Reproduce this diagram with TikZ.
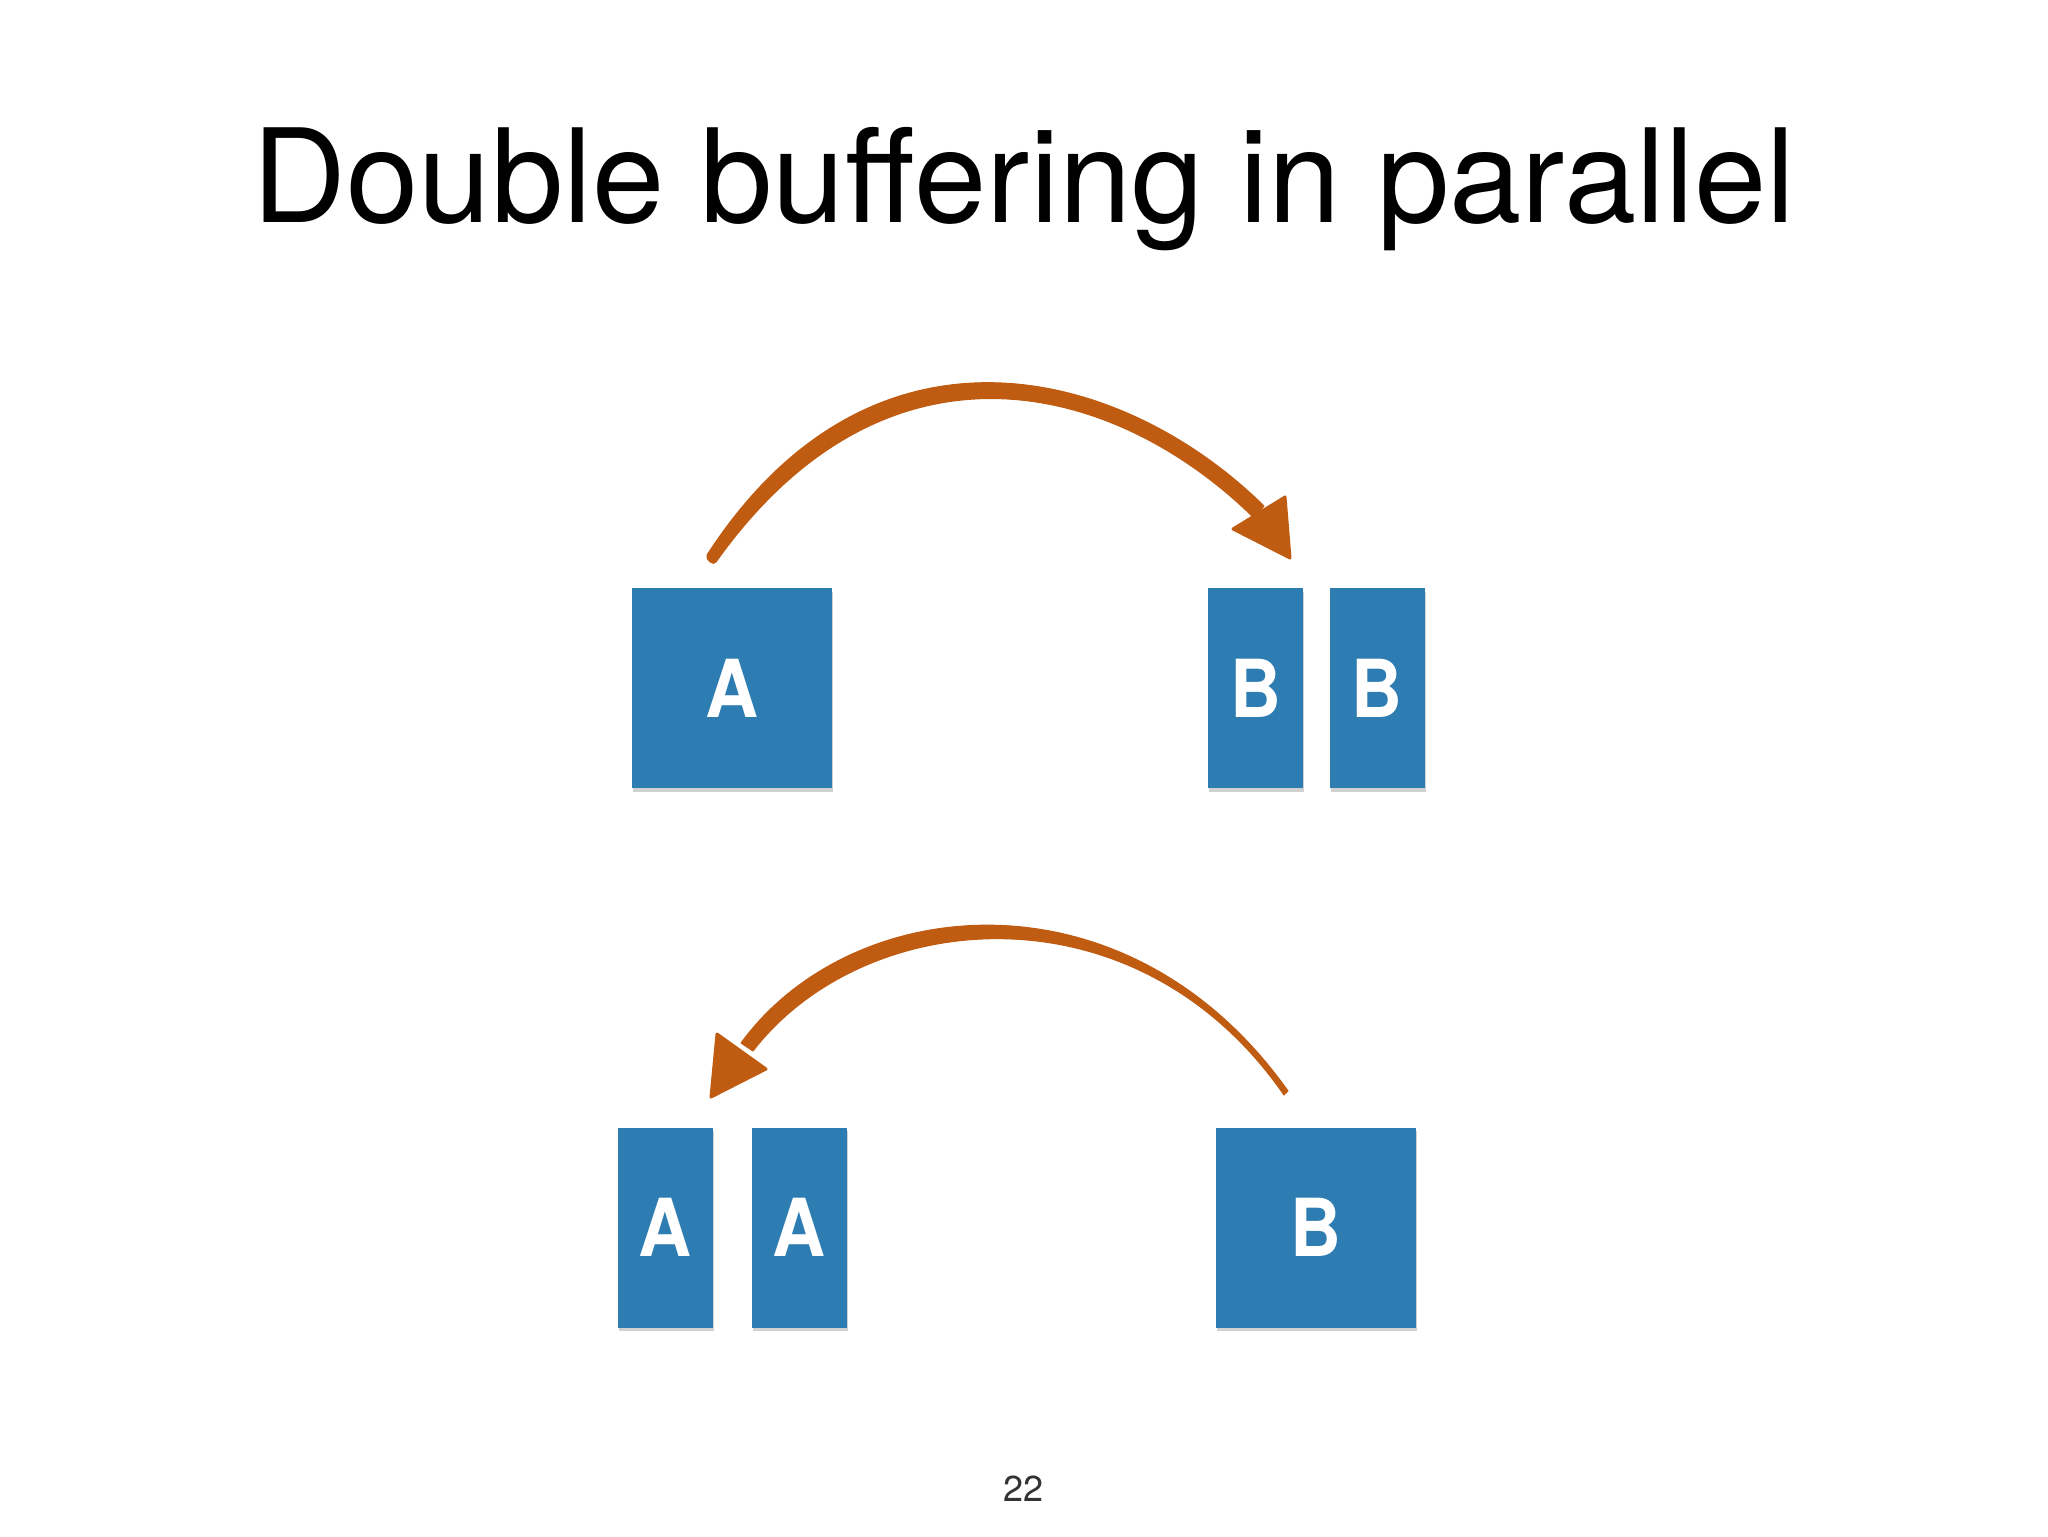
\documentclass[tikz,border=0pt]{standalone}
\usepackage{fontspec}
\setmainfont{TeX Gyre Heros}
\usetikzlibrary{shadows}
\definecolor{boxblue}{RGB}{46,125,178}
\definecolor{arroworange}{RGB}{192,92,18}
\begin{document}
\begin{tikzpicture}[x=0.5pt,y=-0.5pt,
  bluebox/.style={fill=boxblue, inner sep=0pt, outer sep=0pt, text=white,
    font=\fontsize{40}{48}\selectfont\bfseries,
    drop shadow={shadow xshift=0.6pt, shadow yshift=-1.8pt, fill=black, opacity=0.18}},
  bigbox/.style={minimum width=100pt, minimum height=100pt},
  slimbox/.style={minimum width=47.5pt, minimum height=100pt},
  brush/.style={fill=arroworange, draw=arroworange, line width=0.5pt, line join=round},
  brushhead/.style={fill=arroworange, draw=arroworange, line width=1.5pt, line join=round},
]
\useasboundingbox[fill=white] (0,0) rectangle (2048,1536);

% title
\node[anchor=base, inner sep=0pt, font=\fontsize{65}{78}\selectfont] (title) at (1024,222) {Double buffering in parallel};

% top row
\node[bluebox,bigbox] (A1) at (732,688) {\scalebox{0.92}[1]{A}};
\node[bluebox,slimbox] (B1) at (1255.5,688) {\scalebox{0.88}[1]{B}};
\node[bluebox,slimbox] (B2) at (1377,688) {\scalebox{0.88}[1]{B}};

% bottom row
\node[bluebox,slimbox] (A2) at (665.5,1227.5) {\scalebox{0.92}[1]{A}};
\node[bluebox,slimbox] (A3) at (799,1227.5) {\scalebox{0.92}[1]{A}};
\node[bluebox,bigbox] (B3) at (1316,1227.5) {\scalebox{0.88}[1]{B}};

% page number
\node[anchor=base, inner sep=0pt, font=\fontsize{18}{22}\selectfont, text=black!80] (page) at (1023,1501) {22};

% arrow 1 (A -> B)
\coordinate (s1o) at (707,555);
\coordinate (s1i) at (716,562);
\coordinate (e1o) at (1264,506);
\coordinate (e1i) at (1254,518);
\filldraw[brush] (s1o) .. controls (872,300) and (1123,367) .. (e1o)
  -- (e1i) .. controls (1117,383) and (888,320) .. (s1i)
  .. controls (714,566) and (705,560) .. (s1o) -- cycle;
\coordinate (h1a) at (1233,529);
\coordinate (h1b) at (1285,497);
\coordinate (h1t) at (1290,558);
\filldraw[brushhead] (h1a) -- (h1b) -- (h1t) -- cycle;

% arrow 2 (B -> A)
\coordinate (s2o) at (1288,1091);
\coordinate (s2i) at (1284,1095);
\coordinate (e2o) at (741,1043);
\coordinate (e2i) at (753,1051);
\filldraw[brush] (s2o) .. controls (1127,864) and (851,892) .. (e2o)
  -- (e2i) .. controls (864,907) and (1136,881) .. (s2i) -- cycle;
\coordinate (h2a) at (717,1034);
\coordinate (h2b) at (766,1069);
\coordinate (h2t) at (711,1097);
\filldraw[brushhead] (h2a) -- (h2b) -- (h2t) -- cycle;
\end{tikzpicture}
\end{document}
